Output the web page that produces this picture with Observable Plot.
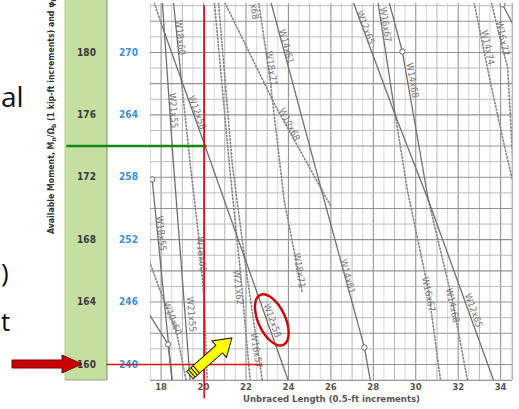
<!DOCTYPE html>
<html><head><meta charset="utf-8">
<script src="https://cdn.jsdelivr.net/npm/d3@7"></script>
<script src="https://cdn.jsdelivr.net/npm/@observablehq/plot@0.6"></script>
<style>
html,body{margin:0;padding:0;background:#fff;}
#chart{width:519px;height:409px;overflow:hidden;position:relative;}
svg{display:block;}
</style></head><body><div id="chart"></div>
<script>
// ---- data ----
const xTicks = [18, 20, 22, 24, 26, 28, 30, 32, 34];
const asdMoments = [160, 164, 168, 172, 176, 180];
const lrfdMoments = [240, 246, 252, 258, 264, 270];

// solid = lightest-section portions, dotted = other portions  [shape, [[length ft, moment kip-ft], ...]]
const solidSegments = [
  ["W12x58", [[18.09,181.54],[20.08,173.97],[23.99,158.97]]],
  ["W21x55", [[18.05,183.4],[18.57,173.08],[19.37,158.97]]],
  ["W18x60", [[18.57,183.4],[18.97,178.01]]],
  ["W18x55", [[17.58,171.86],[18.52,158.97]]],
  ["W10x60", [[17.40,163.3],[18.33,161.28],[18.52,158.97]]],
  ["W14x61", [[23.14,183.4],[25.65,170.71],[27.58,161.09],[27.86,158.97]]],
  ["W12x65", [[27.01,183.4],[29.04,175.96],[30.60,170.51],[33.67,158.97]]],
  ["W16x67", [[28.20,183.4],[29.04,175.96]]],
  ["W14x68", [[28.71,183.4],[29.37,180.06],[30.60,170.51]]],
  ["", [[34.09,183.08],[34.70,181.5]]]
];
const dottedSegments = [
  ["W12x58", [[17.62,183.4],[18.09,181.54]]],
  ["W18x60", [[18.97,178.01],[19.37,172.88],[19.79,167.95],[20.03,164.10],[20.17,158.97]]],
  ["W10x60", [[17.40,166.8],[17.95,164.74],[18.71,162.18],[19.18,158.97]]],
  ["W21x62", [[20.50,183.4],[21.21,172.88],[21.73,166.03],[22.20,158.97]]],
  ["W16x57", [[20.69,183.4],[21.35,172.88],[22.01,166.03],[22.77,158.97]]],
  ["W10x68", [[20.93,183.4],[23.38,176.60],[25.98,170.19]]],
  ["W18x71", [[22.58,183.4],[23.14,178.21],[23.80,170.51],[24.65,164.62]]],
  ["W16x67", [[29.04,175.96],[29.61,171.15],[30.60,164.74],[31.17,158.97]]],
  ["W14x68", [[30.60,170.51],[31.73,164.10],[32.44,158.97]]],
  ["W14x74", [[32.72,183.4],[33.53,178.01],[34.23,173.72],[34.70,171.0]]],
  ["W16x77", [[33.53,183.4],[34.0,180.77],[34.33,179.04],[34.62,172.0]]]
];
const limitPoints = [[17.58,171.86],[18.33,161.28],[27.58,161.09],[29.37,180.06],[34.09,183.08]];

const labelText  = ["W18x60","W21x55","W12x58","W18x60","W21x62","W16x57","W18x55","W10x60","W21x55","W12x58","x68","W18x71","W10x68","W14x61","W18x71","W14x61","W12x65","W16x67","W14x68","W16x67","W14x68","W12x65","W14x74","W16x77"];
const labelX     = [18.90,18.57,19.70,19.89,21.63,22.48,18.00,18.52,19.42,23.24,22.39,23.19,24.04,23.90,24.51,26.78,27.63,28.57,29.84,30.60,31.73,32.72,33.39,34.09];
const labelY     = [180.96,176.28,176.15,167.05,164.94,160.90,168.40,162.95,163.21,162.82,182.63,178.97,175.38,180.38,166.03,165.64,181.60,181.79,178.21,164.49,163.78,163.46,180.32,180.90];
const labelAngle = [84,86,70,84,84,81,84,68,85,70,80,81,63,75,81,75,69,81,80,78,77,70,78,78];

// annotation values (data units)
const selLength = 20.03, selMoment = 174, reqMoment = 160;

// ---- build tables ----
const toRows = segs => segs.flatMap(([shape, pts], i) => pts.map(([x, y]) => ({shape, seg: i, x, y})));
const labels = labelText.map((t, i) => ({t, x: labelX[i], y: labelY[i], a: labelAngle[i]}));
const halfGrid = d3.range(17.5, 34.6, 0.5);
const hGrid = d3.range(159, 184, 1);

const FONT = "'Liberation Sans Narrow','DejaVu Sans Condensed','Liberation Sans',Arial,sans-serif";

const plot = Plot.plot({
  width: 519, height: 409,
  marginLeft: 150, marginRight: 7, marginTop: 3, marginBottom: 29,
  style: {fontFamily: FONT, background: "white", overflow: "visible"},
  x: {domain: [17.5, 34.56], axis: null},
  y: {domain: [158.97, 183.14], axis: null},
  marks: [
    // grid
    Plot.ruleX(halfGrid.filter(d => d % 1 !== 0), {stroke: "#d2d2d2", strokeWidth: 0.9}),
    Plot.ruleX(halfGrid.filter(d => d % 1 === 0 && d % 2 !== 0), {stroke: "#b6b6b6", strokeWidth: 1}),
    Plot.ruleX(halfGrid.filter(d => d % 2 === 0), {stroke: "#929292", strokeWidth: 1.1}),
    Plot.ruleX([34.56], {stroke: "#b2b2b2"}),
    Plot.ruleY(hGrid.filter(d => d % 2 !== 0), {stroke: "#bcbcbc", strokeWidth: 1}),
    Plot.ruleY(hGrid.filter(d => d % 2 === 0), {stroke: "#929292", strokeWidth: 1.1}),
    Plot.ruleY([158.97], {stroke: "#999"}),
    // beam curves
    Plot.line(toRows(dottedSegments), {x: "x", y: "y", z: "seg", stroke: "#8a8a8a", strokeWidth: 1.7, strokeDasharray: "1.3,2.2", clip: true}),
    Plot.line(toRows(solidSegments), {x: "x", y: "y", z: "seg", stroke: "#707070", strokeWidth: 1.3, clip: true}),
    Plot.dot(limitPoints, {x: d => d[0], y: d => d[1], r: 2.6, stroke: "#666", strokeWidth: 1, fill: "white", clip: true}),
    Plot.text(labels, {x: "x", y: "y", text: "t", rotate: "a", fontSize: 9.5, fill: "#7a7a7a", clip: true}),
    // axes text
    Plot.text(xTicks, {x: d => d, frameAnchor: "bottom", dy: 9.5, text: d => String(d), fontSize: 9.5, fontWeight: "bold", fill: "#555"}),
    Plot.text(["Unbraced Length (0.5-ft increments)"], {frameAnchor: "bottom", dy: 21, fontSize: 9.5, fontWeight: "bold", fill: "#555"}),
    Plot.text(asdMoments, {y: d => d, frameAnchor: "left", dx: -64, textAnchor: "middle", text: d => String(d), fontSize: 10, fontWeight: "bold", fill: "#3a3a3a"}),
    Plot.text(lrfdMoments.map((v, i) => ({v, m: asdMoments[i]})), {y: "m", frameAnchor: "left", dx: -22, textAnchor: "middle", text: d => String(d.v), fontSize: 10, fontWeight: "bold", fill: "#3b8fd9"}),
    // annotation lines
    Plot.ruleY([{y: selMoment, x1: 13.56, x2: 20.17}], {y: "y", x1: "x1", x2: "x2", stroke: "#14891a", strokeWidth: 2.6}),
    Plot.ruleY([{y: reqMoment, x1: 15.45, x2: 22.77}], {y: "y", x1: "x1", x2: "x2", stroke: "#e01010", strokeWidth: 1.6}),
    Plot.ruleX([{x: selLength, y1: 157.8, y2: 183.0}], {x: "x", y1: "y1", y2: "y2", stroke: "#e01010", strokeWidth: 1.6})
  ]
});
document.getElementById("chart").append(plot);

const sx = plot.scale("x"), sy = plot.scale("y");
const X = v => sx.apply(v), Y = v => sy.apply(v);
const svg = d3.select(plot);

// green ASD column (behind everything)
const bg = svg.insert("g", ":scope > :nth-child(2)");
bg.append("rect").attr("x", 65).attr("y", -2).attr("width", 42).attr("height", Y(158.97) + 2)
  .attr("fill", "#c4dfa0");
bg.append("line").attr("x1", 107).attr("x2", 107).attr("y1", 0).attr("y2", Y(158.97))
  .attr("stroke", "#8f9a86").attr("stroke-width", 1.2);
bg.append("line").attr("x1", 65).attr("x2", 65).attr("y1", 0).attr("y2", Y(158.97))
  .attr("stroke", "#b5cf95").attr("stroke-width", 1);
bg.append("line").attr("x1", 65).attr("x2", 107).attr("y1", Y(158.97)).attr("y2", Y(158.97))
  .attr("stroke", "#9aa88e").attr("stroke-width", 1);

// y-axis title (starts at bottom, runs upward off the top as in the reference)
const yt = svg.append("text").attr("transform", "translate(54,234) rotate(-90)")
  .attr("text-anchor", "start")
  .attr("font-family", FONT).attr("font-size", 8.7).attr("font-weight", "bold").attr("fill", "#333");
const parts = [["Available Moment, M", 0], ["n", 1], ["/Ω", 0], ["b", 1], [" (1 kip-ft increments) and φ", 0], ["b", 1], ["M", 0], ["n", 1]];
parts.forEach(([t, sub], i) => {
  const ts = yt.append("tspan").text(t);
  if (sub) ts.attr("font-size", 6.5).attr("dy", 2);
  else if (i > 0 && parts[i - 1][1]) ts.attr("dy", -2);
});

// slide text fragments at left
const slide = svg.append("g").attr("font-family", "'Open Sans','Liberation Sans',sans-serif").attr("fill", "#111")
  .attr("text-anchor", "start");
slide.append("text").attr("x", 1).attr("y", 107).attr("font-size", 28).text("al");
slide.append("text").attr("x", 1).attr("y", 282).attr("font-size", 26).text(")");
slide.append("text").attr("x", 1).attr("y", 331).attr("font-size", 26).text("t");

// red arrow pointing at 160
svg.append("path")
  .attr("d", "M12,360 L62,360 L62,355 L82,364 L62,373 L62,368 L12,368 Z")
  .attr("fill", "#c80000").attr("stroke", "#7a0000").attr("stroke-width", 1);

// red ellipse around W12x58 label
svg.append("ellipse").attr("cx", X(23.24)).attr("cy", Y(162.82)).attr("rx", 13.5).attr("ry", 27.5)
  .attr("transform", `rotate(-25 ${X(23.24)} ${Y(162.82)})`)
  .attr("fill", "none").attr("stroke", "#cc0000").attr("stroke-width", 2.4);

// yellow arrow
{
  const x0 = X(19.38), y0 = Y(159.29), x1 = X(21.36), y1 = Y(161.67);
  const L = Math.hypot(x1 - x0, y1 - y0), ang = Math.atan2(y1 - y0, x1 - x0) * 180 / Math.PI;
  const g = svg.append("g").attr("transform", `translate(${x0},${y0}) rotate(${ang})`);
  const hb = L - 17;
  g.append("path").attr("d", `M0,-5 L${hb},-5 L${hb},-11 L${L},0 L${hb},11 L${hb},5 L0,5 Z`)
    .attr("fill", "#ffff00").attr("stroke", "#222").attr("stroke-width", 1);
  [2.5, 5.5, 8.5].forEach(u => g.append("line").attr("x1", u).attr("x2", u).attr("y1", -5).attr("y2", 5)
    .attr("stroke", "#222").attr("stroke-width", 1.1));
}
</script></body></html>
